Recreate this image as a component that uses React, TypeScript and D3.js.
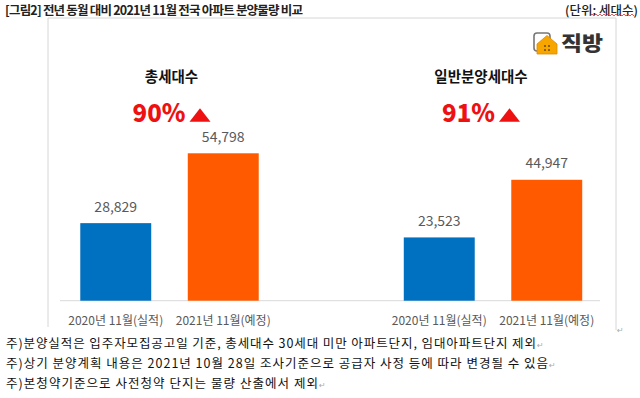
import React from "react";
import * as d3 from "d3";

// chart data
const groups = ["총세대수", "일반분양세대수"];
const periods = ["2020년 11월(실적)", "2021년 11월(예정)"];
const totalUnits = [28829, 54798];
const generalUnits = [23523, 44947];
const changeLabels = ["90%", "91%"];
const footnotes = [
  "주)분양실적은 입주자모집공고일 기준, 총세대수 30세대 미만 아파트단지, 임대아파트단지 제외",
  "주)상기 분양계획 내용은 2021년 10월 28일 조사기준으로 공급자 사정 등에 따라 변경될 수 있음",
  "주)본청약기준으로 사전청약 단지는 물량 산출에서 제외",
];
const title = "[그림2] 전년 동월 대비 2021년 11월 전국 아파트 분양물량 비교";
const unitLabel = "(단위: 세대수)";

const seriesByGroup = [totalUnits, generalUnits];
const colors = ["#0070C0", "#FF5A00"];
const font = "'Noto Sans CJK KR', 'Noto Sans', sans-serif";

const width = 640;
const height = 398;
const baseline = 300.7;

const App = () => {
  const y = d3.scaleLinear().domain([0, 60000]).range([baseline, baseline - 161.4]);
  const outer = d3.scaleBand<string>().domain(groups).range([62, 600.5]).paddingInner(0.3354);
  const inner = d3
    .scaleBand<string>()
    .domain(periods)
    .range([0, outer.bandwidth()])
    .paddingInner(0.34)
    .paddingOuter(0.17);
  const fmt = d3.format(",");

  // header offsets of the title / percentage per group (centered a bit left on the right panel)
  const headerShift = [2, -12];
  const footLengths = [530, 542, 312];

  // small wavy underline (spell-check mark) under 세대수
  const wave = d3.range(0, 23).map((i) => [590 + i * 2, i % 2 ? 14 : 16] as [number, number]);

  return (
    <svg
      width={width}
      height={height}
      style={{ position: "absolute", left: 0, top: 0, background: "#fff" }}
      fontFamily={font}
    >
      <rect width={width} height={height} fill="#fff" />
      <text x={5} y={14.5} fontSize={12.5} fontWeight={600} fill="#222" textLength={298} lengthAdjust="spacing">
        {title}
      </text>
      <text x={638} y={14.5} fontSize={12.5} fontWeight={500} fill="#222" textAnchor="end">
        {unitLabel}
      </text>
      <path d={d3.line()(wave) ?? ""} fill="none" stroke="#E03030" strokeWidth={0.8} />

      {/* chart frame */}
      <path d="M48,327V18H616V330" fill="none" stroke="#D6D6D6" strokeWidth={1} />

      {/* logo */}
      <g>
        <rect x={534} y={33} width={16} height={18} rx={3} fill="#fff" stroke="#777" strokeWidth={1.6} />
        <path d="M537,44 L547,35.5 L557,44 L557,54 L537,54 Z" fill="#F7A600" stroke="#E08A00" strokeWidth={0.8} />
        <circle cx={545} cy={46} r={1} fill="#6a4a00" />
        <circle cx={549} cy={46} r={1} fill="#6a4a00" />
        <circle cx={545} cy={50} r={1} fill="#6a4a00" />
        <circle cx={549} cy={50} r={1} fill="#6a4a00" />
        <text x={561} y={50.5} fontSize={20} fontWeight={800} fill="#333" textLength={42} lengthAdjust="spacingAndGlyphs">
          직방
        </text>
      </g>

      {/* axis line */}
      <line x1={60} x2={600} y1={baseline} y2={baseline} stroke="#D9D9D9" strokeWidth={1} />

      {groups.map((g, gi) => {
        const gx = outer(g) ?? 0;
        const cx = gx + outer.bandwidth() / 2 + headerShift[gi];
        return (
          <g key={g}>
            <text x={cx} y={81.5} fontSize={14.5} fontWeight={700} fill="#111" textAnchor="middle">
              {g}
            </text>
            <g transform={`translate(${cx - 39},0)`}>
              <text x={0} y={121.7} fontSize={25} fontWeight={800} fill="#EE1111" textLength={53} lengthAdjust="spacingAndGlyphs">
                {changeLabels[gi]}
              </text>
              <path d="M57,121.7 L67.5,108.3 L78,121.7 Z" fill="#EE1111" />
            </g>
            {periods.map((p, pi) => {
              const v = seriesByGroup[gi][pi];
              const bx = gx + (inner(p) ?? 0);
              const bw = inner.bandwidth();
              return (
                <g key={p}>
                  <rect x={bx} y={y(v)} width={bw} height={baseline - y(v)} fill={colors[pi]} />
                  <text x={bx + bw / 2} y={y(v) - 11.5} fontSize={14} fill="#595959" textAnchor="middle">
                    {fmt(v)}
                  </text>
                  <text x={bx + bw / 2} y={324.5} fontSize={12} fill="#595959" textAnchor="middle">
                    {p}
                  </text>
                </g>
              );
            })}
          </g>
        );
      })}
      <text x={617} y={333} fontSize={8} fill="#aaa" fontFamily="DejaVu Sans">↵</text>

      {footnotes.map((f, i) => (
        <g key={i}>
          <text x={6} y={347.5 + i * 20} fontSize={12.5} fill="#111" textLength={footLengths[i]} lengthAdjust="spacing">
            {f}
          </text>
          <text x={7 + footLengths[i]} y={347.5 + i * 20} fontSize={8} fill="#aaa" fontFamily="DejaVu Sans">
            ↵
          </text>
        </g>
      ))}
    </svg>
  );
};

export default App;
